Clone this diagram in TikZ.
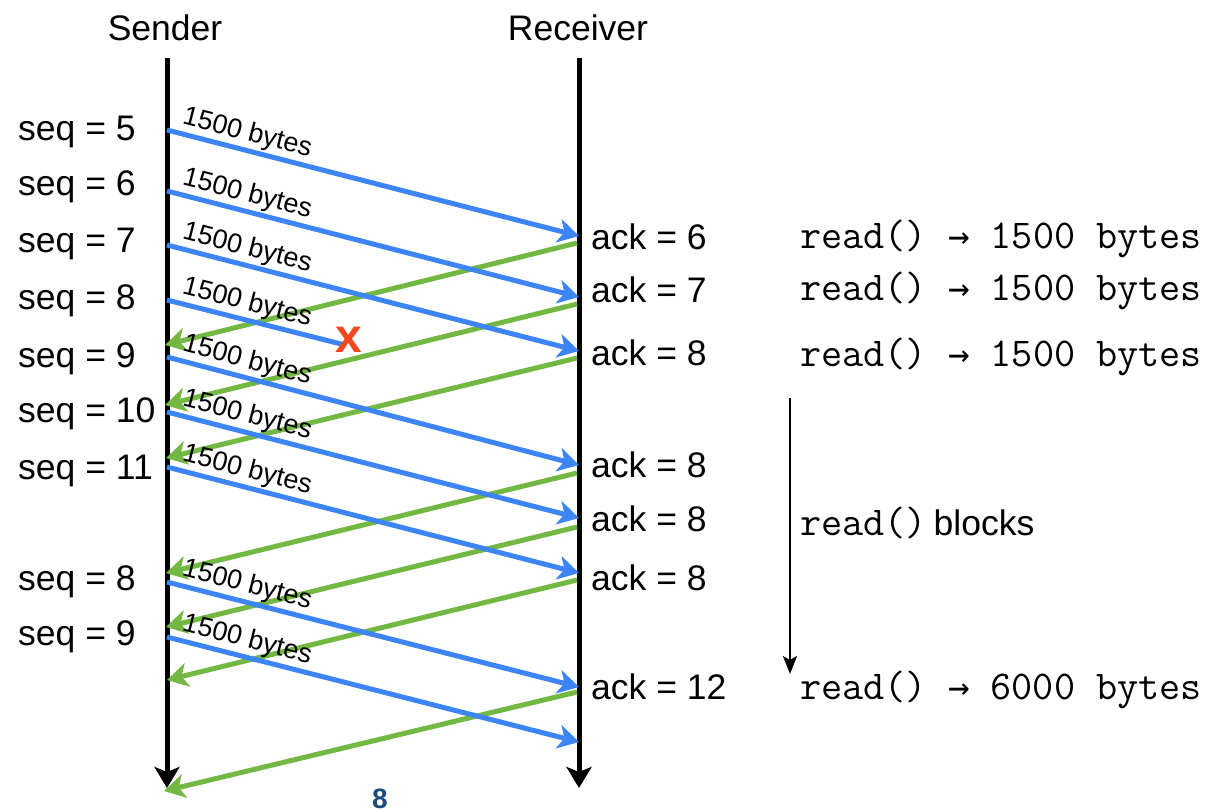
\documentclass[tikz,border=0pt]{standalone}
\usepackage{fontspec}
\setmainfont{Liberation Sans}
\newfontfamily\arrowfont{DejaVu Sans Mono}
\usetikzlibrary{arrows.meta}
\definecolor{pktblue}{HTML}{3D85F6}
\definecolor{ackgreen}{HTML}{72B843}
\definecolor{lossred}{HTML}{F4471F}
\definecolor{pagenum}{HTML}{1B4B7B}
\newcommand{\rarr}{{\fontsize{36}{40}\selectfont\arrowfont →}}
\tikzset{
  lbl/.style={font=\fontsize{35.5}{40}\selectfont, inner sep=0pt, anchor=base west},
  hdr/.style={font=\fontsize{35.5}{40}\selectfont, inner sep=0pt, anchor=base},
  code/.style={font=\fontsize{41}{46}\selectfont\ttfamily, inner sep=0pt, anchor=base west},
  life/.style={line width=5pt, -{Stealth[length=21pt,width=25pt,inset=5pt]}},
  pkt/.style={draw=pktblue, line width=5pt, -{Stealth[length=21pt,width=24pt,inset=6pt]}},
  lostpkt/.style={draw=pktblue, line width=5pt},
  ackline/.style={draw=ackgreen, line width=5pt, -{Stealth[length=21pt,width=24pt,inset=6pt]}},
  bytes/.style={font=\fontsize{27}{30}\selectfont, sloped, pos=0, anchor=south west, inner xsep=10pt, inner ysep=1.5pt},
  blockarrow/.style={line width=2.5pt, -{Stealth[length=18pt,width=14pt,inset=4pt]}}
}
\begin{document}
\begin{tikzpicture}[x=1pt,y=-1pt]
\useasboundingbox (0,0) rectangle (1215,811);
% headers
\node[hdr] (sender) at (165,40) {Sender};
\node[hdr] (receiver) at (578,40) {Receiver};
% lifelines
\coordinate (stop) at (167,58);
\coordinate (sbot) at (167,788);
\coordinate (rtop) at (579,58);
\coordinate (rbot) at (579,788);
\draw[life] (stop) -- (sbot);
\draw[life] (rtop) -- (rbot);
% endpoints on sender
\coordinate (s1) at (167,130);
\coordinate (s2) at (167,191);
\coordinate (s3) at (167,245);
\coordinate (s4) at (167,300);
\coordinate (s5) at (167,357);
\coordinate (s6) at (167,412);
\coordinate (s7) at (167,467);
\coordinate (s8) at (167,582);
\coordinate (s9) at (167,637);
% endpoints on receiver
\coordinate (r1) at (579,236);
\coordinate (r2) at (579,297);
\coordinate (r3) at (579,351);
\coordinate (r5) at (579,465);
\coordinate (r6) at (579,518);
\coordinate (r7) at (579,573);
\coordinate (r8) at (579,687);
\coordinate (r9) at (579,742);
\coordinate (lostend) at (345,345);
% ack starts and ends
\coordinate (ga1) at (577,243); \coordinate (gb1) at (165,345);
\coordinate (ga2) at (577,304); \coordinate (gb2) at (165,405);
\coordinate (ga3) at (577,358); \coordinate (gb3) at (166,458);
\coordinate (ga4) at (577,473); \coordinate (gb4) at (166,573);
\coordinate (ga5) at (577,527); \coordinate (gb5) at (166,627);
\coordinate (ga6) at (577,580); \coordinate (gb6) at (167,680);
\coordinate (ga7) at (577,692); \coordinate (gb7) at (164,791);
% green acks
\draw[ackline] (ga1) -- (gb1);
\draw[ackline] (ga2) -- (gb2);
\draw[ackline] (ga3) -- (gb3);
\draw[ackline] (ga4) -- (gb4);
\draw[ackline] (ga5) -- (gb5);
\draw[ackline] (ga6) -- (gb6);
\draw[ackline] (ga7) -- (gb7);
% blue packets
\draw[pkt] (s1) -- node[bytes] (b1) {1500 bytes} (r1);
\draw[pkt] (s2) -- node[bytes] (b2) {1500 bytes} (r2);
\draw[pkt] (s3) -- node[bytes] (b3) {1500 bytes} (r3);
\draw[lostpkt] (s4) -- node[bytes] (b4) {1500 bytes} (lostend);
\draw[pkt] (s5) -- node[bytes] (b5) {1500 bytes} (r5);
\draw[pkt] (s6) -- node[bytes] (b6) {1500 bytes} (r6);
\draw[pkt] (s7) -- node[bytes] (b7) {1500 bytes} (r7);
\draw[pkt] (s8) -- node[bytes] (b8) {1500 bytes} (r8);
\draw[pkt] (s9) -- node[bytes] (b9) {1500 bytes} (r9);
% lost marker
\node[text=lossred, font=\fontsize{48}{50}\selectfont\bfseries, inner sep=0pt] (lost) at (349,340) {x};
% seq labels
\node[lbl] (q1) at (18,140) {seq = 5};
\node[lbl] (q2) at (18,195) {seq = 6};
\node[lbl] (q3) at (18,252) {seq = 7};
\node[lbl] (q4) at (18,309) {seq = 8};
\node[lbl] (q5) at (18,367) {seq = 9};
\node[lbl] (q6) at (18,422) {seq = 10};
\node[lbl] (q7) at (18,479) {seq = 11};
\node[lbl] (q8) at (18,590) {seq = 8};
\node[lbl] (q9) at (18,645) {seq = 9};
% ack labels
\node[lbl] (a1) at (591,249) {ack = 6};
\node[lbl] (a2) at (591,302) {ack = 7};
\node[lbl] (a3) at (591,365) {ack = 8};
\node[lbl] (a4) at (591,477) {ack = 8};
\node[lbl] (a5) at (591,531) {ack = 8};
\node[lbl] (a6) at (591,590) {ack = 8};
\node[lbl] (a7) at (591,699) {ack = 12};
% read labels
\node[code] (rd1) at (800,248) {read() \rarr{} 1500 bytes};
\node[code] (rd2) at (800,300) {read() \rarr{} 1500 bytes};
\node[code] (rd3) at (800,366) {read() \rarr{} 1500 bytes};
\node[code] (rd4) at (800,699) {read() \rarr{} 6000 bytes};
\node[code] (rdb) at (800,535) {read()\,{\fontsize{35.5}{40}\selectfont\rmfamily blocks}};
% blocking arrow
\coordinate (blk1) at (790,398);
\coordinate (blk2) at (790,674);
\draw[blockarrow] (blk1) -- (blk2);
% page number
\node[text=pagenum, font=\fontsize{28}{30}\selectfont\bfseries, inner sep=0pt, anchor=base] (pnum) at (380,808) {8};
\end{tikzpicture}
\end{document}
